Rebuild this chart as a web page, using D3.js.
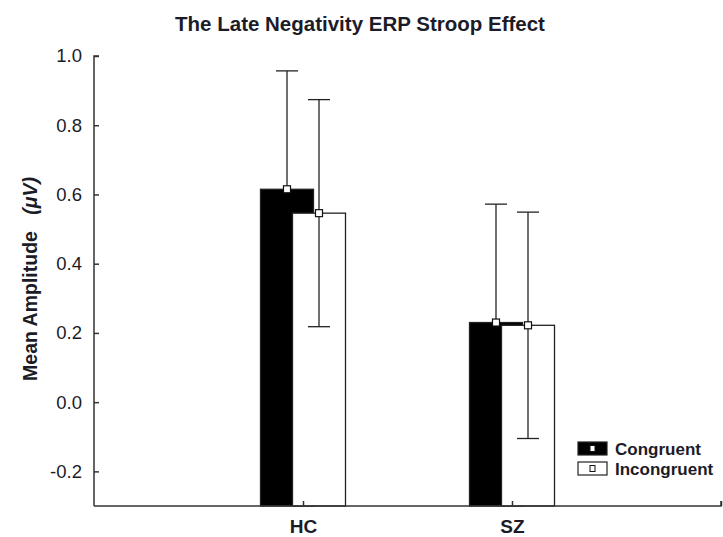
<!DOCTYPE html>
<html>
<head>
<meta charset="utf-8">
<script src="https://cdn.jsdelivr.net/npm/d3@7"></script>
<style>
  html, body { margin: 0; padding: 0; background: #fff; }
  svg { display: block; }
  .tick text { font-family: "Liberation Sans", Arial, sans-serif; }
</style>
</head>
<body>
<script>
// Late negativity ERP Stroop effect: group means with error bars
const groups = ["HC", "SZ"];
const conditions = ["Congruent", "Incongruent"];
const congruentMeans = [0.615, 0.230];
const congruentErr = [0.342, 0.342];
const incongruentMeans = [0.546, 0.222];
const incongruentErr = [0.328, 0.327];
const yTicks = [-0.2, 0.0, 0.2, 0.4, 0.6, 0.8, 1.0];

const W = 723, H = 537;
const svg = d3.select("body").append("svg").attr("width", W).attr("height", H);

const plotLeft = 94, plotRight = 721, plotTop = 56, plotBottom = 506;
const axisColor = "#333";
const textColor = "#1c1c28";
const font = "'Liberation Sans', Arial, sans-serif";

// groups sit at slots 1 and 2 of an axis divided into three equal spans
const x = d3.scaleLinear().domain([0, 3]).range([plotLeft, plotRight]);
const y = d3.scaleLinear().domain([-0.3, 1.0]).range([plotBottom, plotTop]);

const barW = 53, offset = 16, capHalf = 11;

// title
svg.append("text")
  .attr("x", 360).attr("y", 31)
  .attr("text-anchor", "middle")
  .attr("font-family", font)
  .attr("font-weight", "bold")
  .attr("font-size", 20.5)
  .attr("fill", textColor)
  .text("The Late Negativity ERP Stroop Effect");

// each condition: bars, then whiskers, so the later white bars
// cover whatever of the black series falls behind them
const series = [
  { name: conditions[0], means: congruentMeans, errs: congruentErr, dx: -offset, fill: "#000" },
  { name: conditions[1], means: incongruentMeans, errs: incongruentErr, dx: offset, fill: "#fff" }
];

const plot = svg.append("g");
series.forEach(s => {
  const layer = plot.append("g");
  groups.forEach((g, i) => {
    const cx = x(i + 1) + s.dx;
    layer.append("rect")
      .attr("x", cx - barW / 2)
      .attr("y", y(s.means[i]))
      .attr("width", barW)
      .attr("height", y(-0.3) - y(s.means[i]))
      .attr("fill", s.fill)
      .attr("stroke", "#222")
      .attr("stroke-width", 1.3);
  });
  groups.forEach((g, i) => {
    const cx = x(i + 1) + s.dx;
    const hi = s.means[i] + s.errs[i], lo = s.means[i] - s.errs[i];
    const lineCol = s.fill === "#000" ? "#000" : "#222";
    layer.append("line")
      .attr("x1", cx).attr("x2", cx)
      .attr("y1", y(hi)).attr("y2", y(s.means[i]))
      .attr("stroke", "#222").attr("stroke-width", 1.3);
    layer.append("line")
      .attr("x1", cx).attr("x2", cx)
      .attr("y1", y(s.means[i])).attr("y2", y(lo))
      .attr("stroke", lineCol).attr("stroke-width", 1.3);
    layer.append("line")
      .attr("x1", cx - capHalf).attr("x2", cx + capHalf)
      .attr("y1", y(hi)).attr("y2", y(hi))
      .attr("stroke", "#222").attr("stroke-width", 1.3);
    layer.append("line")
      .attr("x1", cx - capHalf).attr("x2", cx + capHalf)
      .attr("y1", y(lo)).attr("y2", y(lo))
      .attr("stroke", lineCol).attr("stroke-width", 1.3);
  });
});
// mean markers on top of everything
series.forEach(s => {
  groups.forEach((g, i) => {
    const cx = x(i + 1) + s.dx;
    plot.append("rect")
      .attr("x", cx - 3.5).attr("y", y(s.means[i]) - 3.5)
      .attr("width", 7).attr("height", 7)
      .attr("fill", "#fff").attr("stroke", "#111").attr("stroke-width", 1.2);
  });
});

// y axis (ticks point inward)
const yAxis = d3.axisRight(y)
  .tickValues(yTicks)
  .tickSize(5)
  .tickFormat(d => d3.format(".1f")(d).replace("\u2212", "-"));
const yg = svg.append("g").attr("transform", `translate(${plotLeft},0)`).call(yAxis);
yg.select(".domain").attr("d", `M5,${plotTop}H0V${plotBottom}`).attr("stroke", axisColor).attr("stroke-width", 1.5);
yg.selectAll(".tick line").attr("stroke", axisColor).attr("stroke-width", 1.5);
yg.selectAll(".tick text")
  .attr("x", -12).attr("text-anchor", "end")
  .attr("font-size", 18.5).attr("fill", textColor);

// x axis (ticks point inward, labels below)
const xAxis = d3.axisTop(x)
  .tickValues([0, 1, 2, 3])
  .tickSize(5)
  .tickFormat(d => groups[d - 1] || "");
const xg = svg.append("g").attr("transform", `translate(0,${plotBottom})`).call(xAxis);
xg.select(".domain").attr("d", `M${plotLeft},0H${plotRight}V-5`).attr("stroke", axisColor).attr("stroke-width", 1.5);
xg.selectAll(".tick line").attr("stroke", axisColor).attr("stroke-width", 1.5);
xg.selectAll(".tick").filter(d => d === 0).select("line").remove();
xg.selectAll(".tick text")
  .attr("y", 27).attr("dy", 0)
  .attr("font-family", font)
  .attr("font-weight", "bold")
  .attr("font-size", 19).attr("fill", textColor);

// y axis label
const yl = svg.append("text")
  .attr("transform", `translate(37,279) rotate(-90)`)
  .attr("text-anchor", "middle")
  .attr("font-family", font)
  .attr("font-weight", "bold")
  .attr("font-size", 19.5)
  .attr("fill", textColor)
  .attr("xml:space", "preserve");
yl.append("tspan").text("Mean Amplitude   ");
yl.append("tspan").attr("font-style", "italic").text("(\u03BCV)");

// legend
const lg = svg.append("g").attr("transform", "translate(578,442)");
series.forEach((s, i) => {
  const row = lg.append("g").attr("transform", `translate(0,${i * 20})`);
  row.append("rect").attr("x", 0).attr("y", 0).attr("width", 29).attr("height", 13)
    .attr("fill", s.fill).attr("stroke", "#222").attr("stroke-width", 1.2);
  row.append("rect").attr("x", 12).attr("y", 3.5).attr("width", 5).attr("height", 6)
    .attr("fill", "#fff").attr("stroke", "#111").attr("stroke-width", 1);
  row.append("text").attr("x", 37).attr("y", 13)
    .attr("font-family", font)
    .attr("font-weight", "bold").attr("font-size", 17)
    .attr("fill", textColor)
    .text(s.name);
});
</script>
</body>
</html>
